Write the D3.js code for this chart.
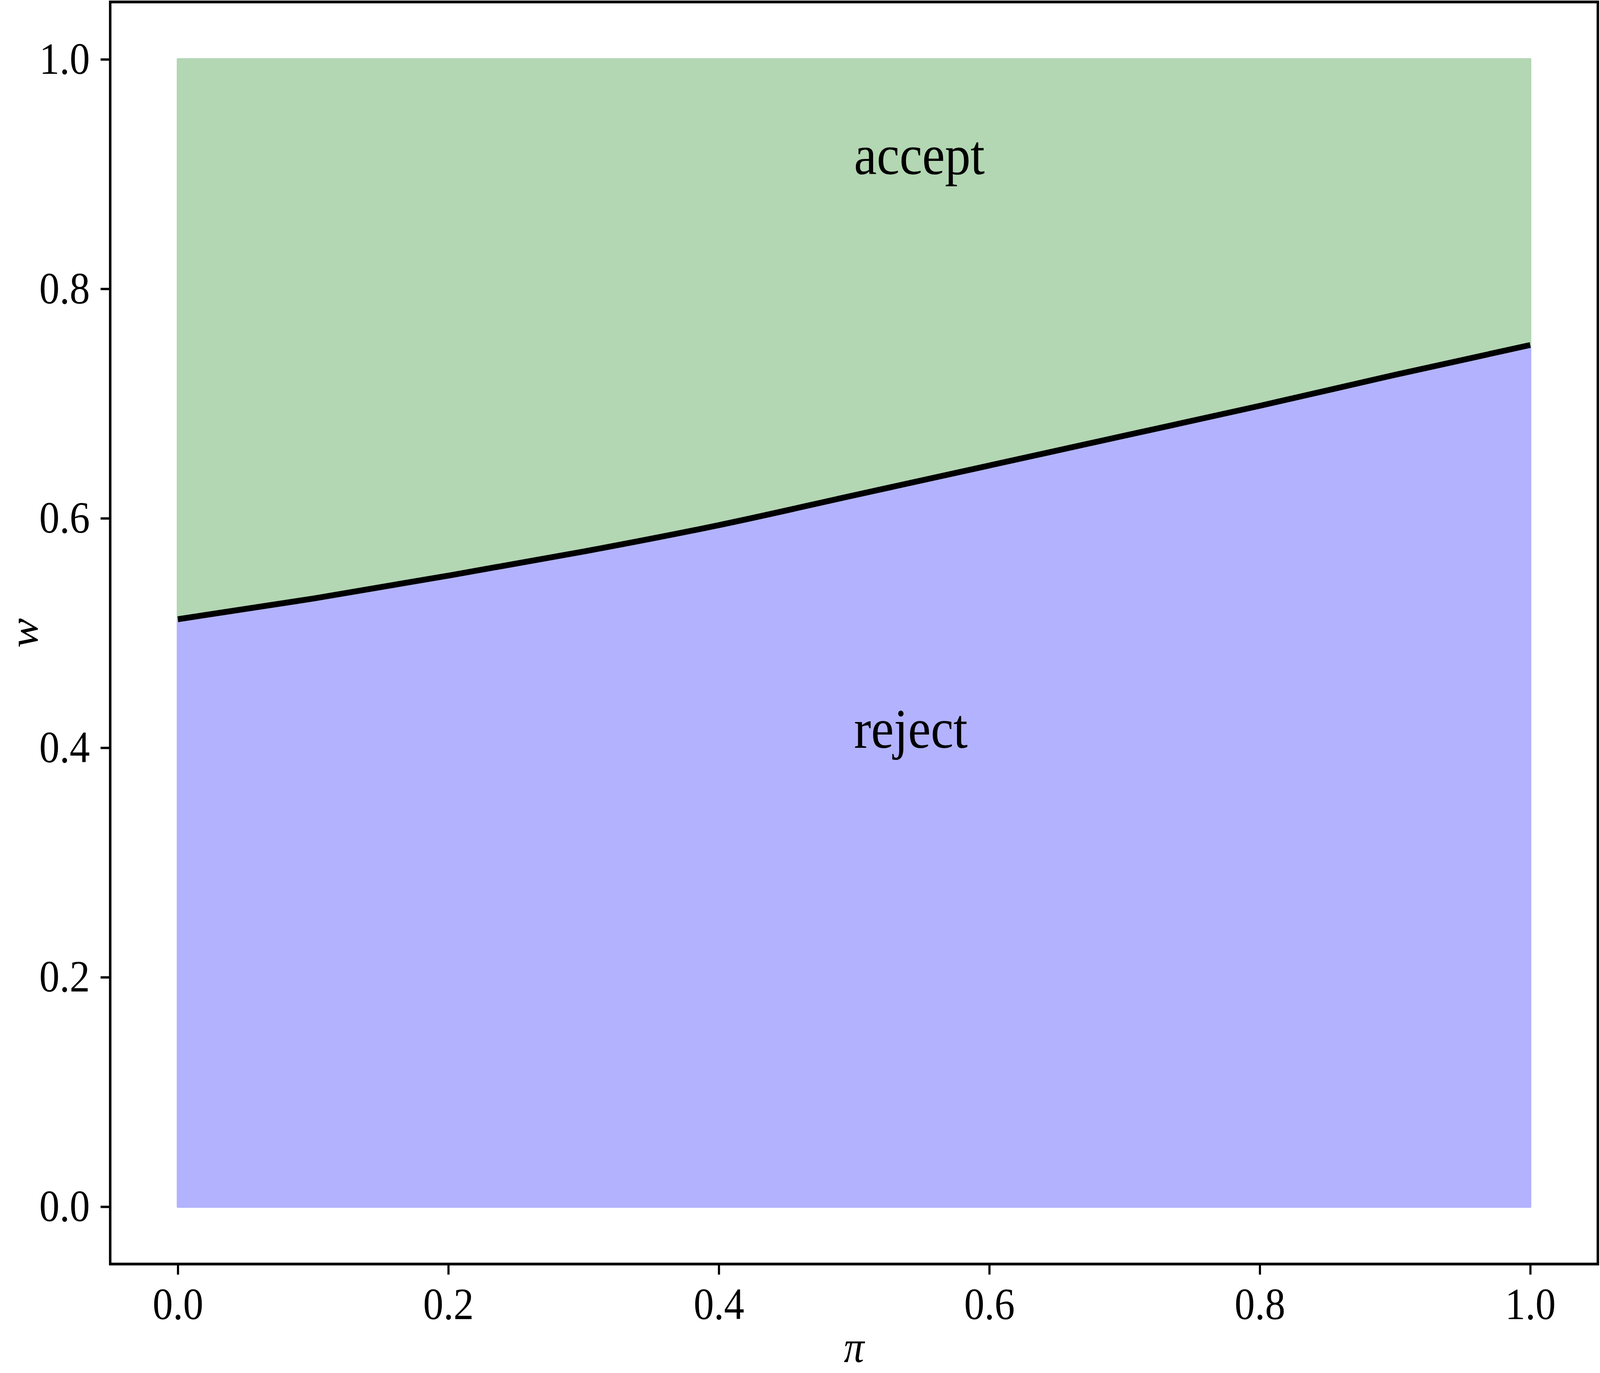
<!DOCTYPE html>
<html lang="en">
  <head>
    <meta charset="UTF-8" />
    <title>accept / reject</title>
    <script src="https://d3js.org/d3.v7.min.js"></script>
    <style>
      html, body { margin: 0; padding: 0; background: #fff; overflow: hidden; }
      svg { display: block; width: 100vw; height: 100vh; }
      svg text { font-family: 'Liberation Serif', 'DejaVu Serif', serif; fill: #000; }
    </style>
  </head>
  <body>
    <svg class="chart"></svg>

    <script>
      // boundary curve w(pi)
      let piValues = [0, 0.1, 0.2, 0.3, 0.4, 0.5, 0.6, 0.7, 0.8, 0.9, 1.0]
      let wValues = [0.512, 0.530, 0.550, 0.571, 0.594, 0.620, 0.646, 0.672, 0.698, 0.725, 0.751]

      let xTicks = [0, 0.2, 0.4, 0.6, 0.8, 1.0]
      let yTicks = [0, 0.2, 0.4, 0.6, 0.8, 1.0]
      let xTickLabels = ['0.0', '0.2', '0.4', '0.6', '0.8', '1.0']
      let yTickLabels = ['0.0', '0.2', '0.4', '0.6', '0.8', '1.0']

      let regionLabels = ['accept', 'reject']
      let regionLabelPos = [[0.5, 0.9], [0.5, 0.4]]

      let width = 4501
      let height = 3516
      let axLeft = 310, axRight = 4495, axTop = 5, axBottom = 3237

      let points = piValues.map((p, i) => ({ pi: p, w: wValues[i] }))

      let x = d3.scaleLinear().domain([-0.05, 1.05]).range([axLeft, axRight])
      let y = d3.scaleLinear().domain([-0.05, 1.05]).range([axBottom, axTop])

      // drawn in a fixed 4501x3516 coordinate space, stretched to the window
      let svg = d3.select('svg.chart')
        .attr('viewBox', `0 0 ${width} ${height}`)
        .attr('preserveAspectRatio', 'none')

      let curve = d3.curveMonotoneX

      // reject region (below the curve)
      svg.append('path')
        .datum(points)
        .attr('d', d3.area().curve(curve).x(d => x(d.pi)).y0(y(0)).y1(d => y(d.w)))
        .attr('fill', '#b2b2fe')
        .attr('stroke', '#b2b2fe')
        .attr('stroke-width', 6)
        .attr('stroke-linejoin', 'round')

      // accept region (above the curve)
      svg.append('path')
        .datum(points)
        .attr('d', d3.area().curve(curve).x(d => x(d.pi)).y0(y(1)).y1(d => y(d.w)))
        .attr('fill', '#b3d6b3')
        .attr('stroke', '#b3d6b3')
        .attr('stroke-width', 6)
        .attr('stroke-linejoin', 'round')

      svg.append('path')
        .datum(points)
        .attr('d', d3.line().curve(curve).x(d => x(d.pi)).y(d => y(d.w)))
        .attr('fill', 'none')
        .attr('stroke', '#000')
        .attr('stroke-width', 15)

      svg.selectAll('text.region')
        .data(regionLabels)
        .enter()
        .append('text')
        .attr('class', 'region')
        .attr('x', (d, i) => x(regionLabelPos[i][0]))
        .attr('y', (d, i) => y(regionLabelPos[i][1]))
        .style('font-size', '144px')
        .text(d => d)

      // axes
      let xAxis = d3.axisBottom(x)
        .tickValues(xTicks)
        .tickFormat((d, i) => xTickLabels[i])
        .tickSizeInner(27)
        .tickSizeOuter(0)
        .tickPadding(33)
      let yAxis = d3.axisLeft(y)
        .tickValues(yTicks)
        .tickFormat((d, i) => yTickLabels[i])
        .tickSizeInner(27)
        .tickSizeOuter(0)
        .tickPadding(30)

      let gx = svg.append('g').attr('transform', `translate(0, ${axBottom})`).call(xAxis)
      let gy = svg.append('g').attr('transform', `translate(${axLeft}, 0)`).call(yAxis)
      ;[gx, gy].forEach(g => {
        g.select('.domain').remove()
        g.selectAll('line').attr('stroke', '#000').attr('stroke-width', 6)
        g.selectAll('text')
          .style('font-family', "'Liberation Serif', serif")
          .style('font-size', '114px')
          .attr('fill', '#000')
      })

      // frame
      svg.append('rect')
        .attr('x', axLeft)
        .attr('y', axTop)
        .attr('width', axRight - axLeft)
        .attr('height', axBottom - axTop)
        .attr('fill', 'none')
        .attr('stroke', '#000')
        .attr('stroke-width', 7)

      svg.append('text')
        .attr('x', (axLeft + axRight) / 2)
        .attr('y', 3488)
        .attr('text-anchor', 'middle')
        .style('font-size', '114px')
        .style('font-style', 'italic')
        .text('π')

      svg.append('text')
        .attr('transform', `translate(106, ${(axTop + axBottom) / 2}) rotate(-90)`)
        .attr('text-anchor', 'middle')
        .style('font-size', '114px')
        .style('font-style', 'italic')
        .text('w')
    </script>
  </body>
</html>
